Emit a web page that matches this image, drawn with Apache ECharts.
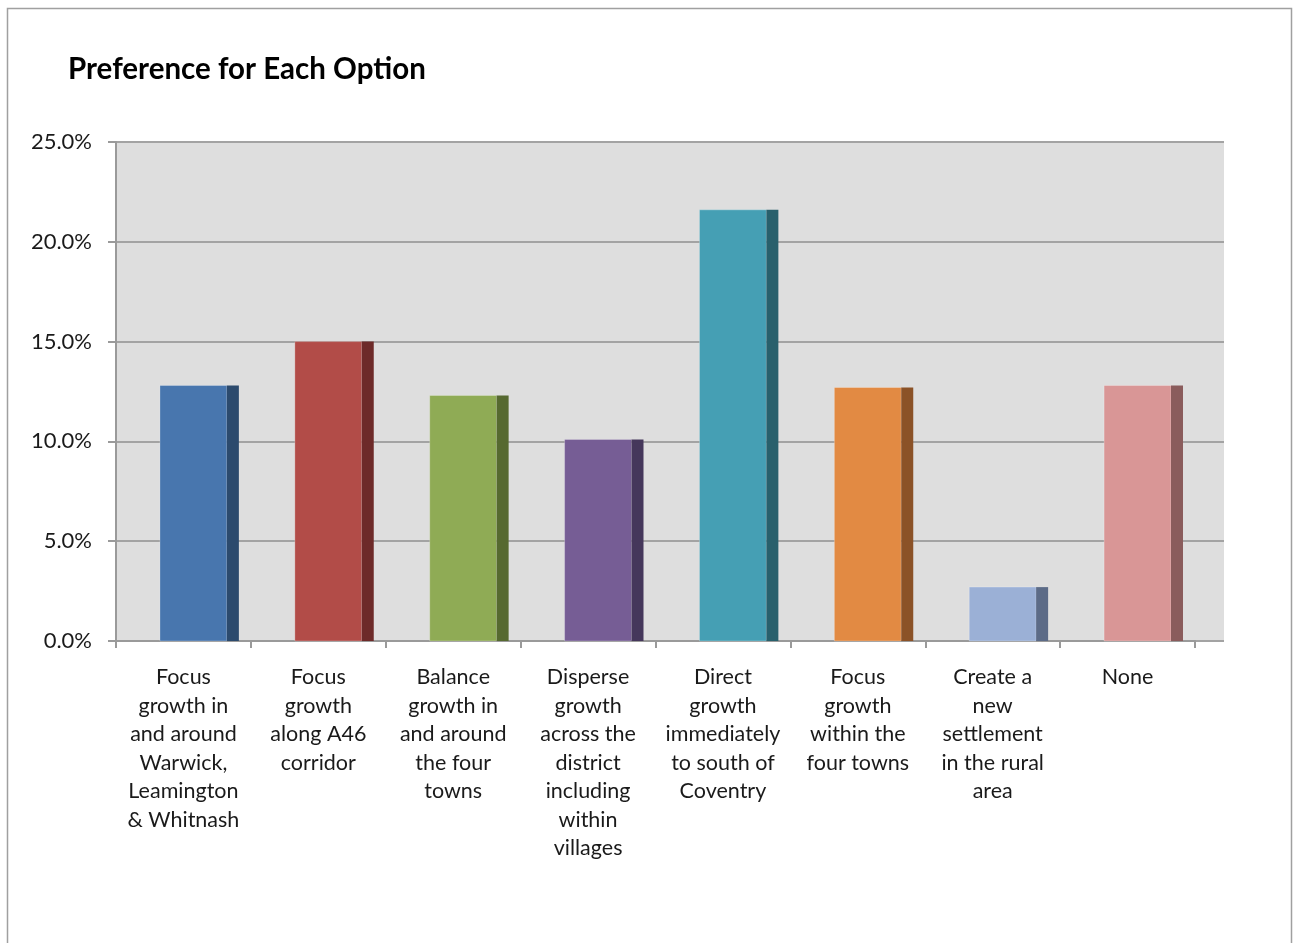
<!DOCTYPE html>
<html>
<head>
<meta charset="utf-8">
<title>Preference for Each Option</title>
<script src="https://cdn.jsdelivr.net/npm/echarts@6/dist/echarts.min.js"></script>
<style>
  html, body { margin: 0; padding: 0; background: #ffffff; }
  #chart { width: 1293px; height: 943px; }
</style>
</head>
<body>
<div id="chart"></div>
<script>
// Survey options (line breaks follow the printed wrapping)
const categories = [
  'Focus\ngrowth in\nand around\nWarwick,\nLeamington\n& Whitnash',
  'Focus\ngrowth\nalong A46\ncorridor',
  'Balance\ngrowth in\nand around\nthe four\ntowns',
  'Disperse\ngrowth\nacross the\ndistrict\nincluding\nwithin\nvillages',
  'Direct\ngrowth\nimmediately\nto south of\nCoventry',
  'Focus\ngrowth\nwithin the\nfour towns',
  'Create a\nnew\nsettlement\nin the rural\narea',
  'None'
];

// Share of respondents preferring each option (%)
const preference = [12.8, 15.0, 12.3, 10.1, 21.6, 12.7, 2.7, 12.8];

// Value axis ticks (%)
const yMin = 0;
const yMax = 25;
const yStep = 5;

// Front and side face colours for each bar
const frontColors = ['#4876ae', '#b24c48', '#8fab55', '#765d95', '#459fb4', '#e28a43', '#9bb0d6', '#d99696'];
const sideColors  = ['#2c4a6d', '#6d2a29', '#566930', '#45375b', '#28606c', '#8b5227', '#5c6b87', '#8a5c5c'];

const FONT = 'Lato, "Open Sans", sans-serif';
const chart = echarts.init(document.getElementById('chart'), null, { renderer: 'canvas' });

chart.setOption({
  backgroundColor: '#ffffff',
  animation: false,
  title: {
    text: 'Preference for Each Option',
    left: 63,
    top: 49,
    textStyle: { fontFamily: FONT, fontSize: 29.5, fontWeight: 'bold', color: '#000000' }
  },
  graphic: [
    {
      type: 'rect',
      shape: { x: 7.5, y: 8.5, width: 1284, height: 960 },
      style: { fill: 'none', stroke: '#a0a0a0', lineWidth: 1.5 },
      silent: true,
      z: -10
    }
  ],
  grid: [
    // back wall with gridlines (extends past the category axis for depth)
    { left: 116, right: 69, top: 142, bottom: 302, show: true, backgroundColor: '#dedede', borderWidth: 0 },
    // category plane
    { left: 116, right: 98, top: 142, bottom: 302 }
  ],
  xAxis: [
    { gridIndex: 0, type: 'value', show: false, min: 0, max: 1 },
    {
      gridIndex: 1,
      type: 'category',
      data: categories,
      axisLine: { show: true, lineStyle: { color: '#9a9a9a', width: 2 } },
      axisTick: { show: true, length: 7, inside: false, lineStyle: { color: '#9a9a9a', width: 2 } },
      axisLabel: {
        interval: 0,
        margin: 22,
        fontFamily: FONT,
        fontSize: 21.5,
        lineHeight: 28.5,
        color: '#1a1a1a',
        align: 'center'
      },
      splitLine: { show: false }
    }
  ],
  yAxis: [
    {
      gridIndex: 0,
      type: 'value',
      min: yMin,
      max: yMax,
      interval: yStep,
      axisLine: { show: true, lineStyle: { color: '#9a9a9a', width: 2 } },
      axisTick: { show: true, length: 8, inside: false, lineStyle: { color: '#9a9a9a', width: 2 } },
      axisLabel: {
        margin: 24,
        fontFamily: FONT,
        fontSize: 22,
        color: '#1a1a1a',
        formatter: v => v.toFixed(1) + '%'
      },
      splitLine: { show: true, lineStyle: { color: '#a3a3a3', width: 2 } }
    },
    { gridIndex: 1, type: 'value', min: yMin, max: yMax, interval: yStep, show: false, splitLine: { show: false } }
  ],
  series: [{
    type: 'custom',
    xAxisIndex: 1,
    yAxisIndex: 1,
    data: preference.map((v, i) => [i, v]),
    renderItem: function (params, api) {
      const idx = api.value(0);
      const top = api.coord([idx, api.value(1)]);
      const base = api.coord([idx, 0]);
      const band = api.size([1, 0])[0];
      const x0 = top[0] - band * 0.174;
      const x1 = top[0] + band * 0.322;
      const x2 = top[0] + band * 0.411;
      const h = base[1] - top[1];
      return {
        type: 'group',
        children: [
          {
            type: 'rect',
            shape: { x: x0, y: top[1], width: x1 - x0, height: h },
            style: { fill: frontColors[idx], stroke: 'rgba(255,255,255,0.25)', lineWidth: 1 }
          },
          {
            type: 'rect',
            shape: { x: x1, y: top[1], width: x2 - x1, height: h },
            style: { fill: sideColors[idx] }
          }
        ]
      };
    }
  }]
});
</script>
</body>
</html>
